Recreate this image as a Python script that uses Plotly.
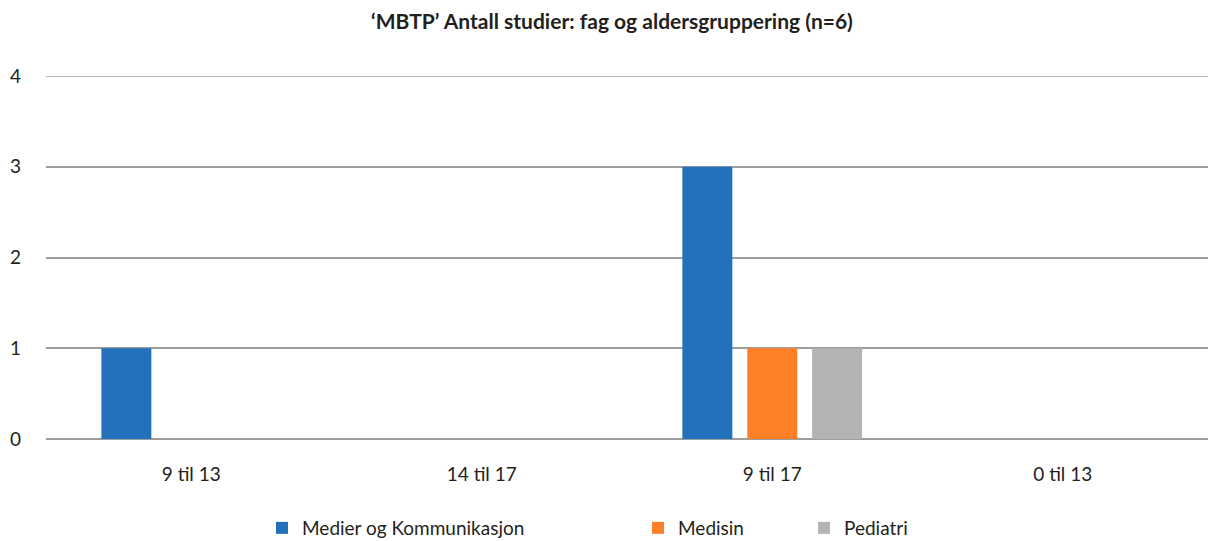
import plotly.graph_objects as go

# Age groups on the x axis and number of studies per subject area
categories = ["9 til 13", "14 til 17", "9 til 17", "0 til 13"]
medier = [1, 0, 3, 0]
medisin = [0, 0, 1, 0]
pediatri = [0, 0, 1, 0]

series = [
    ("Medier og Kommunikasjon", medier, "#2371BB", "legend"),
    ("Medisin", medisin, "#FF7F27", "legend2"),
    ("Pediatri", pediatri, "#B4B3B3", "legend3"),
]

FONT = "Lato, 'Open Sans', sans-serif"
TEXT = "#231F20"
GRID = "#9E9E9E"
Y_MAX = 4

fig = go.Figure()
for name, vals, color, lg in series:
    fig.add_trace(go.Bar(
        x=categories, y=vals, name=name, legend=lg, showlegend=True,
        marker=dict(color=color, line=dict(width=0)),
    ))

W, H = 1208, 541
L, R, T, B = 46, 0, 76, 102

def legend_at(px):
    return dict(
        x=(px - L) / (W - L - R), xref="paper", xanchor="left",
        y=-(528 - (H - B)) / (H - T - B), yref="paper", yanchor="middle",
        orientation="h", font=dict(family=FONT, size=19, color=TEXT),
        bgcolor="rgba(0,0,0,0)", borderwidth=0,
    )

fig.update_layout(
    width=W, height=H,
    margin=dict(l=L, r=R, t=T, b=B, autoexpand=False),
    paper_bgcolor="white", plot_bgcolor="white",
    barmode="group", bargap=0.33, bargroupgap=0.23,
    showlegend=True,
    title=dict(
        text="<b>‘MBTP’ Antall studier: fag og aldersgruppering (n=6)</b>",
        x=612 / W, xref="container", xanchor="center",
        y=1 - 22 / H, yref="container", yanchor="middle",
        font=dict(family=FONT, size=21, color=TEXT),
    ),
    legend=legend_at(262),
    legend2=legend_at(638),
    legend3=legend_at(804),
    font=dict(family=FONT, color=TEXT),
)

# top gridline sits on the plot edge, so draw it explicitly
fig.add_shape(
    type="line", xref="paper", yref="y", x0=0, x1=1, y0=Y_MAX, y1=Y_MAX,
    line=dict(color=GRID, width=1.5), layer="below",
)

fig.update_xaxes(
    showgrid=False, showline=False, zeroline=False,
    tickfont=dict(family=FONT, size=19, color=TEXT),
    ticks="", ticklabelstandoff=22,
)
fig.update_yaxes(
    range=[0, Y_MAX], tickvals=[0, 1, 2, 3, 4],
    showgrid=True, gridcolor=GRID, gridwidth=1.5,
    zeroline=True, zerolinecolor=GRID, zerolinewidth=1.5,
    showline=False, ticks="",
    tickfont=dict(family=FONT, size=19, color=TEXT),
    ticklabelstandoff=24,
)

fig.write_html("out.html")
